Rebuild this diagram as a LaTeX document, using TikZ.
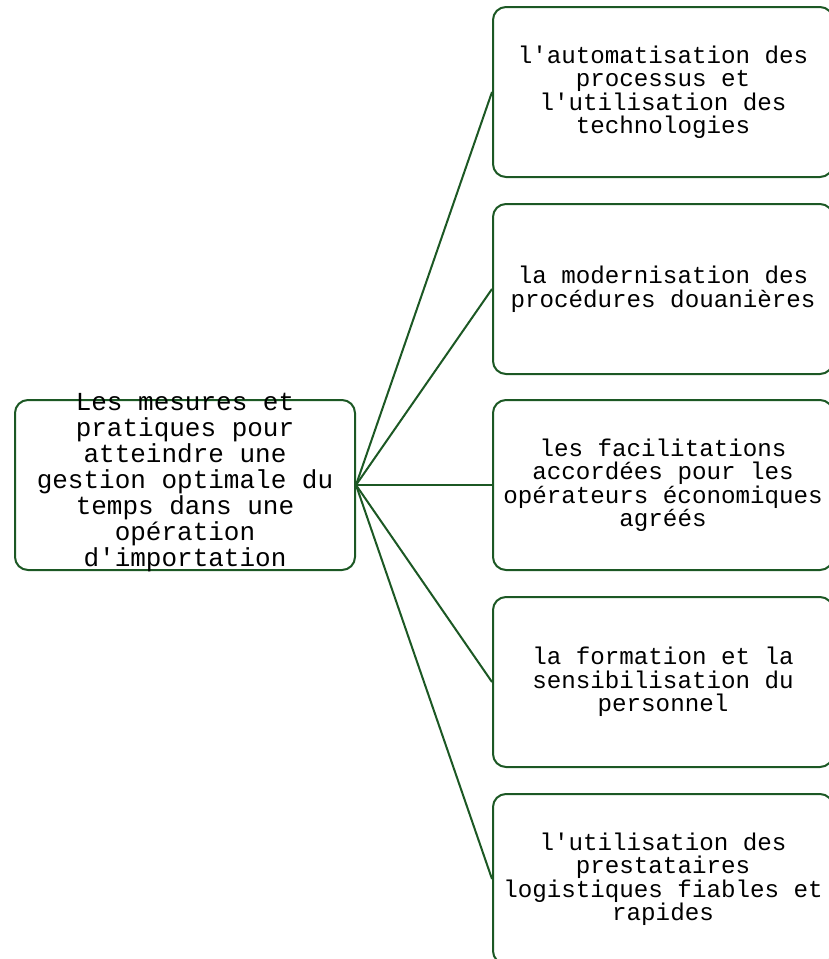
\documentclass[tikz,border=0pt]{standalone}
\usepackage{fontspec}
\setmonofont{Liberation Mono}
\definecolor{edge}{RGB}{28,88,36}
\begin{document}
\begin{tikzpicture}[x=1pt,y=-1pt,
  box/.style={draw=edge, line width=2pt, rounded corners=13pt, fill=white,
    minimum width=340pt, minimum height=170pt, inner sep=0pt},
  leaf/.style={box, align=center, font=\ttfamily\fontsize{24.2}{23.5}\selectfont},
  link/.style={draw=edge, line width=2pt}]
\useasboundingbox (0,0) rectangle (829,959);
\clip (0,0) rectangle (829,959);

% root box and its text (text is taller than the frame)
\node[box] (root) at (185,485) {};
\node[align=center, inner sep=0pt, font=\ttfamily\fontsize{26}{26}\selectfont] (roottext) at (185,483)
  {Les mesures et\\pratiques pour\\atteindre une\\gestion optimale du\\temps dans une\\opération\\d'importation};

% branch boxes
\node[leaf] (b1) at (663,92)  {l'automatisation des\\processus et\\l'utilisation des\\technologies};
\node[leaf] (b2) at (663,289) {la modernisation des\\procédures douanières};
\node[leaf] (b3) at (663,485) {les facilitations\\accordées pour les\\opérateurs économiques\\agréés};
\node[leaf] (b4) at (663,682) {la formation et la\\sensibilisation du\\personnel};
\node[leaf] (b5) at (663,879) {l'utilisation des\\prestataires\\logistiques fiables et\\rapides};

% connectors
\foreach \b in {b1,b2,b3,b4,b5}
  \draw[link] (root.east) -- (\b.west);
\end{tikzpicture}
\end{document}
